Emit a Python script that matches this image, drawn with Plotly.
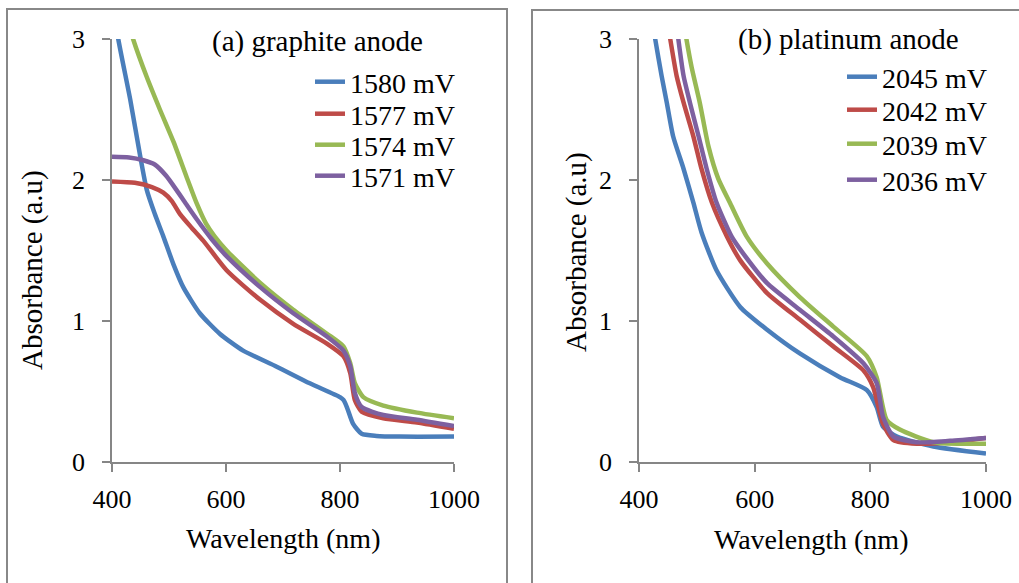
import plotly.graph_objects as go

# ---------------- data ----------------
# (a) graphite anode
a1580_x = [400, 411, 432, 449, 461, 475, 490, 508, 525, 554, 589, 630, 689, 747, 800, 806, 812, 823, 838, 864, 905, 1000]
a1580_y = [3.3, 3.0, 2.57, 2.18, 1.93, 1.76, 1.60, 1.40, 1.24, 1.055, 0.91, 0.79, 0.676, 0.558, 0.46, 0.44, 0.39, 0.27, 0.20, 0.185, 0.18, 0.18]

a1577_x = [400, 440, 470, 490, 505, 519, 540, 560, 601, 660, 718, 777, 806, 818, 826, 838, 876, 935, 1000]
a1577_y = [1.99, 1.98, 1.95, 1.91, 1.85, 1.76, 1.66, 1.57, 1.36, 1.15, 0.98, 0.84, 0.75, 0.63, 0.44, 0.357, 0.31, 0.28, 0.235]

a1574_x = [430, 437, 461, 484, 508, 531, 549, 565, 580, 601, 660, 718, 777, 806, 818, 826, 841, 876, 935, 1000]
a1574_y = [3.1, 3.0, 2.73, 2.50, 2.27, 2.02, 1.83, 1.69, 1.60, 1.50, 1.27, 1.08, 0.91, 0.82, 0.70, 0.56, 0.46, 0.40, 0.35, 0.31]

a1571_x = [400, 430, 455, 475, 495, 513, 530, 549, 575, 601, 660, 718, 777, 806, 818, 826, 838, 876, 935, 1000]
a1571_y = [2.165, 2.16, 2.14, 2.11, 2.03, 1.93, 1.83, 1.72, 1.58, 1.46, 1.24, 1.055, 0.89, 0.79, 0.68, 0.49, 0.39, 0.333, 0.30, 0.255]

# (b) platinum anode
b2045_x = [420, 428, 439, 448, 459, 477, 494, 508, 534, 575, 621, 678, 748, 794, 811, 822, 846, 909, 1000]
b2045_y = [3.2, 3.0, 2.74, 2.55, 2.31, 2.08, 1.84, 1.63, 1.36, 1.10, 0.94, 0.77, 0.60, 0.51, 0.39, 0.25, 0.18, 0.11, 0.06]

b2042_x = [450, 454, 465, 477, 494, 508, 526, 552, 575, 621, 678, 736, 788, 805, 822, 840, 880, 938, 1000]
b2042_y = [3.1, 3.0, 2.74, 2.55, 2.31, 2.08, 1.84, 1.60, 1.43, 1.20, 1.01, 0.82, 0.65, 0.53, 0.27, 0.156, 0.13, 0.14, 0.17]

b2039_x = [478, 482, 491, 505, 520, 537, 557, 586, 621, 678, 736, 794, 811, 828, 851, 909, 1000]
b2039_y = [3.1, 3.0, 2.80, 2.55, 2.24, 2.01, 1.84, 1.60, 1.41, 1.17, 0.96, 0.75, 0.60, 0.30, 0.23, 0.14, 0.13]

b2036_x = [465, 468, 477, 488, 503, 517, 534, 560, 580, 621, 678, 736, 788, 811, 822, 840, 880, 938, 1000]
b2036_y = [3.1, 3.0, 2.74, 2.55, 2.31, 2.08, 1.84, 1.60, 1.48, 1.27, 1.08, 0.89, 0.70, 0.56, 0.32, 0.18, 0.14, 0.15, 0.17]

labels_a = ["1580 mV", "1577 mV", "1574 mV", "1571 mV"]
labels_b = ["2045 mV", "2042 mV", "2039 mV", "2036 mV"]
x_ticks = [400, 600, 800, 1000]
y_ticks = [0, 1, 2, 3]

colors = ["#4A7EBB", "#BE4B48", "#98B954", "#7D60A0"]

W, H = 1019, 583
FONT = "Liberation Serif"

def px(x):
    return x / W

def py(y):
    return (H - y) / H

fig = go.Figure()

series_a = [(a1580_x, a1580_y), (a1577_x, a1577_y), (a1574_x, a1574_y), (a1571_x, a1571_y)]
series_b = [(b2045_x, b2045_y), (b2042_x, b2042_y), (b2039_x, b2039_y), (b2036_x, b2036_y)]

# legend row centres (pixels from top) for each panel
rows_a = [82, 114, 145, 176]
rows_b = [77, 110, 144, 180]

legend_layouts = {}
k = 1
for (xs, ys), name, c, ry in zip(series_a, labels_a, colors, rows_a):
    lg = "legend" if k == 1 else f"legend{k}"
    fig.add_trace(go.Scatter(x=xs, y=ys, mode="lines", name=name,
                             line=dict(color=c, width=4.5, shape="spline", smoothing=0.6),
                             xaxis="x", yaxis="y", legend=lg))
    legend_layouts[lg] = dict(x=px(310), y=py(ry), xanchor="left", yanchor="middle",
                              bgcolor="rgba(0,0,0,0)", borderwidth=0,
                              font=dict(family=FONT, size=28, color="black"))
    k += 1
for (xs, ys), name, c, ry in zip(series_b, labels_b, colors, rows_b):
    lg = f"legend{k}"
    fig.add_trace(go.Scatter(x=xs, y=ys, mode="lines", name=name,
                             line=dict(color=c, width=4.5, shape="spline", smoothing=0.6),
                             xaxis="x2", yaxis="y2", legend=lg))
    legend_layouts[lg] = dict(x=px(842), y=py(ry), xanchor="left", yanchor="middle",
                              bgcolor="rgba(0,0,0,0)", borderwidth=0,
                              font=dict(family=FONT, size=28, color="black"))
    k += 1

axis_common = dict(
    showgrid=False, zeroline=False, showline=True, linecolor="#868686", linewidth=1.5,
    ticks="outside", ticklen=8, tickwidth=1.5, tickcolor="#868686", automargin=False,
    tickfont=dict(family=FONT, size=26, color="black"),
)

ydom = [py(462), py(39)]
fig.update_layout(
    template="none",
    width=W, height=H, autosize=False, margin=dict(l=0, r=0, t=0, b=0, pad=0),
    paper_bgcolor="white", plot_bgcolor="white",
    font=dict(family=FONT, color="black"),
    xaxis=dict(domain=[px(112), px(454)], range=[400, 1000], tickvals=x_ticks,
               anchor="y", ticklabelstandoff=5, **axis_common),
    yaxis=dict(domain=ydom, range=[0, 3], tickvals=y_ticks, anchor="x",
               ticklabelstandoff=12, **axis_common),
    xaxis2=dict(domain=[px(639), px(986)], range=[400, 1000], tickvals=x_ticks,
                anchor="y2", ticklabelstandoff=5, **axis_common),
    yaxis2=dict(domain=ydom, range=[0, 3], tickvals=y_ticks, anchor="x2",
                ticklabelstandoff=12, **axis_common),
    showlegend=True,
    **legend_layouts,
)

# panel borders
border = dict(color="#888888", width=2)
fig.add_shape(type="rect", xref="paper", yref="paper",
              x0=px(7), x1=px(507), y0=-0.1, y1=py(9), line=border, fillcolor="rgba(0,0,0,0)", layer="below")
fig.add_shape(type="rect", xref="paper", yref="paper",
              x0=px(532), x1=1.1, y0=-0.1, y1=py(10), line=border, fillcolor="rgba(0,0,0,0)", layer="below")

annots = [
    dict(text="(a) graphite anode", x=px(317), y=py(41), size=29),
    dict(text="(b) platinum anode", x=px(848), y=py(40), size=29),
    dict(text="Wavelength (nm)", x=px(283), y=py(538), size=28),
    dict(text="Wavelength (nm)", x=px(811), y=py(539), size=28),
    dict(text="Absorbance (a.u)", x=px(32), y=py(270), size=29, textangle=-90),
    dict(text="Absorbance (a.u)", x=px(576), y=py(252), size=29, textangle=-90),
]
for a in annots:
    size = a.pop("size")
    fig.add_annotation(xref="paper", yref="paper", showarrow=False,
                       xanchor="center", yanchor="middle",
                       font=dict(family=FONT, size=size, color="black"), **a)

fig.write_html("out.html", config={"displayModeBar": False},
               post_script="document.body.style.margin='0px';")
